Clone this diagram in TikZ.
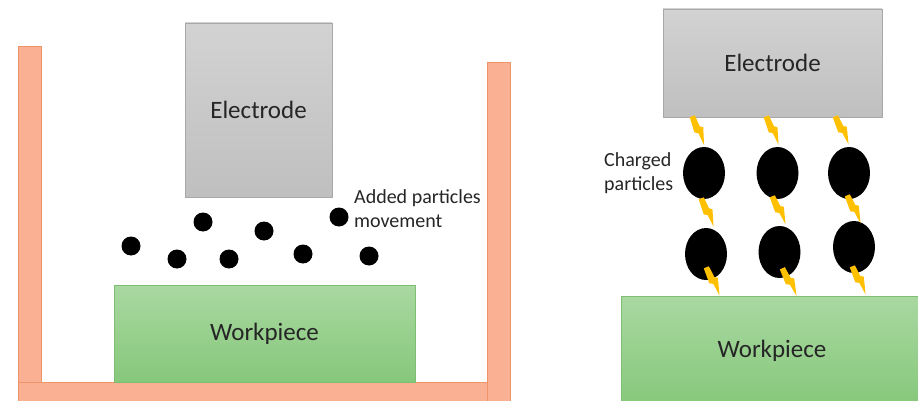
\documentclass[tikz,border=0pt]{standalone}
\usepackage{fontspec}
\setmainfont{Carlito}
\usetikzlibrary{shapes.geometric}

\definecolor{wallfill}{HTML}{FAB092}
\definecolor{walledge}{HTML}{EE9468}
\definecolor{elecedge}{HTML}{A8A8A8}
\definecolor{worktop}{HTML}{A9D8A1}
\definecolor{workbot}{HTML}{86C87B}
\definecolor{workedge}{HTML}{7DBE72}
\definecolor{boltc}{HTML}{FFC000}
\definecolor{txt}{HTML}{262626}

\tikzset{
  wall/.style={fill=wallfill, draw=walledge, line width=0.8pt},
  electrode/.style={draw=elecedge, line width=0.8pt, top color=gray!35, bottom color=gray!50,
    text=txt, font=\fontsize{25}{30}\selectfont, inner sep=0pt},
  workpiece/.style={draw=workedge, line width=0.8pt, top color=worktop, bottom color=workbot,
    text=txt, font=\fontsize{25}{30}\selectfont, inner sep=0pt},
  dot/.style={circle, fill=black, minimum size=19pt, inner sep=0pt},
  charged/.style={ellipse, fill=black, minimum width=42pt, minimum height=52pt, inner sep=0pt},
  caption/.style={align=left, anchor=west, text=txt, font=\fontsize{20}{24}\selectfont, inner sep=0pt},
}

% a small lightning bolt, drawn downwards from its top point
\newcommand\zap[3]{%
  \begin{scope}[shift={(#1,#2)}, rotate=#3]
    \fill[boltc] (-3.5,0) -- (2,0) -- (3,12) -- (6,14) -- (1,31) -- (-0.5,18) -- (-4,16) -- cycle;
  \end{scope}}

\begin{document}
\begin{tikzpicture}[x=1pt, y=-1pt]
  \useasboundingbox (0,0) rectangle (918,401);
  \clip (0,0) rectangle (918,401);
  \fill[white] (0,0) rectangle (918,401);

  % ---- tank with added particles ----
  \path[wall] (18,46) rectangle (41,382);
  \path[wall] (18,382) rectangle (487,406);
  \path[wall] (487,62) rectangle (510,406);

  \node[electrode, minimum width=147pt, minimum height=174pt] (elecL) at (258.5,110) {Electrode};
  \node[workpiece, minimum width=301pt, minimum height=97pt] (workL) at (264.5,333.5) {Workpiece};

  \node[dot] (d1) at (131,246) {};
  \node[dot] (d2) at (203,222) {};
  \node[dot] (d3) at (177,259) {};
  \node[dot] (d4) at (229,259) {};
  \node[dot] (d5) at (264,231) {};
  \node[dot] (d6) at (303,254) {};
  \node[dot] (d7) at (339,217) {};
  \node[dot] (d8) at (369,256) {};

  \node[caption] (addtxt) at (354,209) {Added particles\\movement};

  % ---- charged particles between electrode and workpiece ----
  \node[electrode, minimum width=219pt, minimum height=108pt] (elecR) at (772.5,63) {Electrode};
  \node[workpiece, minimum width=302pt, minimum height=110pt] (workR) at (772,351) {Workpiece};

  \node[charged] (c1) at (704,173) {};
  \node[charged] (c2) at (777.5,173) {};
  \node[charged] (c3) at (849,173) {};
  \node[charged] (c4) at (706,254) {};
  \node[charged] (c5) at (779.5,252) {};
  \node[charged] (c6) at (854,247) {};

  \node[caption] (chgtxt) at (604,173) {Charged\\particles};

  % sparks: electrode -> upper row -> lower row -> workpiece
  \zap{693}{116}{19}
  \zap{767}{116}{20}
  \zap{836}{116}{22}
  \zap{702}{198}{20}
  \zap{773}{196}{22}
  \zap{848}{195}{22}
  \zap{707}{267}{22}
  \zap{783}{268}{24}
  \zap{853}{266}{22}
\end{tikzpicture}
\end{document}
